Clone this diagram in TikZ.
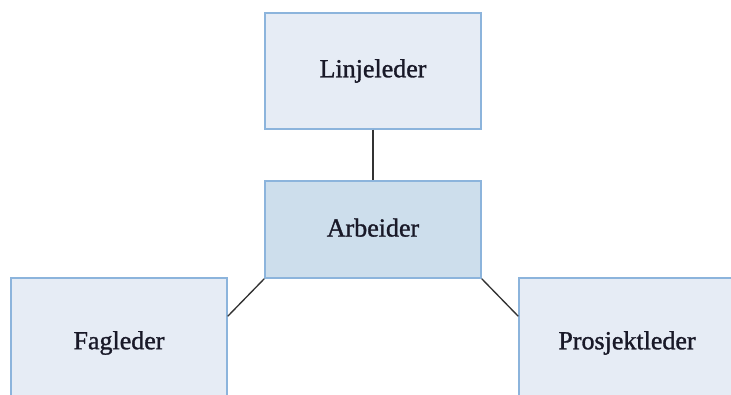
\documentclass[tikz,border=0pt]{standalone}
\usepackage{fontspec}
\setmainfont{Liberation Serif}
\newfontfamily\boxfont[FakeBold=1.2]{Liberation Serif}
\usetikzlibrary{calc}
\definecolor{boxfill}{RGB}{230,236,245}
\definecolor{boxfilldark}{RGB}{205,222,236}
\definecolor{boxborder}{RGB}{140,180,220}
\definecolor{txt}{RGB}{25,25,40}
\definecolor{conn}{RGB}{50,50,50}
\tikzset{
  orgbox/.style={draw=boxborder, line width=1.1pt, fill=boxfill, minimum width=162pt, minimum height=87pt, inner sep=0pt, text=txt, font=\boxfont\fontsize{19.5}{22}\selectfont},
  orgboxdark/.style={orgbox, fill=boxfilldark, minimum height=72.75pt},
  orgboxlow/.style={orgbox, minimum height=97.5pt},
  conn/.style={draw=conn, line width=1pt}
}
\begin{document}
\begin{tikzpicture}[x=0.75pt,y=-0.75pt]
\useasboundingbox (0,0) rectangle (731,394);
\clip (0,0) rectangle (731,394);
\fill[white] (0,0) rectangle (731,394);
\node[orgbox] (lin) at (373,71) {\raisebox{-3pt}{Linjeleder}};
\node[orgboxdark] (arb) at (373,229.5) {\raisebox{3pt}{Arbeider}};
\node[orgboxlow] (fag) at (119,343) {Fagleder};
\node[orgboxlow] (pro) at (627,343) {Prosjektleder};
\draw[conn] (lin.south) -- (arb.north);
\draw[conn] (arb.south west) -- ([yshift=-29.25pt]fag.north east);
\draw[conn] (arb.south east) -- ([yshift=-29.25pt]pro.north west);
\end{tikzpicture}
\end{document}
